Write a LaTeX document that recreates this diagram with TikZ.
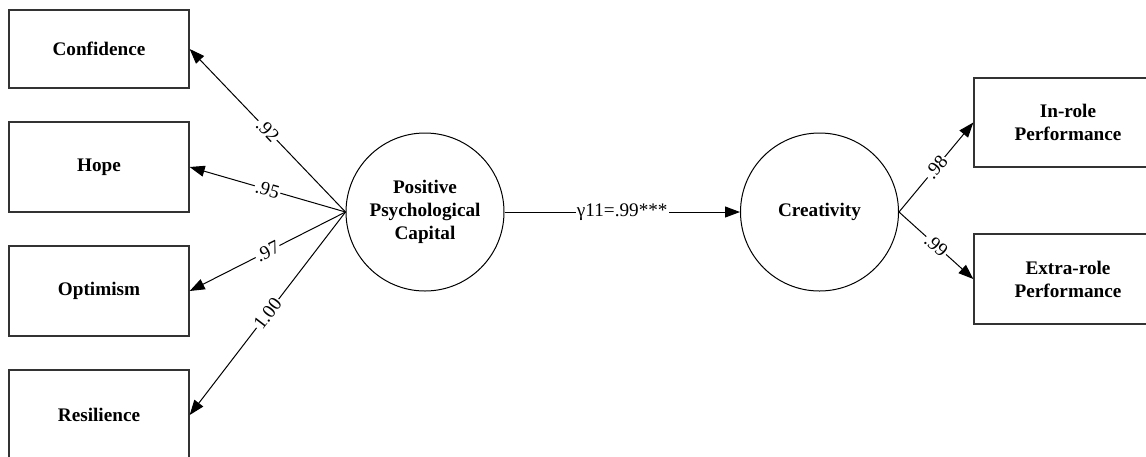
\documentclass[tikz,border=0pt]{standalone}
\usepackage{fontspec}
\setmainfont{Liberation Serif}
\usetikzlibrary{arrows.meta}

\tikzset{
    box/.style={draw=black!80, line width=0.7pt, minimum width=90pt, minimum height=45pt,
        align=center, font=\fontsize{9.6}{11.5}\selectfont\bfseries},
    latent/.style={circle, draw, line width=0.5pt, minimum size=79pt, inner sep=0pt,
        align=center, font=\fontsize{9.6}{11.5}\selectfont\bfseries},
    path/.style={line width=0.5pt, -{Triangle[length=7.5pt,width=5.5pt]}},
    coef/.style={midway, sloped, fill=white, inner sep=0.6pt, font=\fontsize{9.6}{11}\selectfont}
}

\begin{document}
\begin{tikzpicture}[x=0.5pt, y=-0.5pt]
        \clip (0,0) rectangle (1146,456);

        % indicators of psychological capital
        \node[box, minimum height=39pt] (conf) at (99,49) {Confidence};
        \node[box] (hope) at (99,167) {Hope};
        \node[box] (opt) at (99,291) {Optimism};
        \node[box] (res) at (99,415) {Resilience};

        % latent variables
        \node[latent] (ppc) at (425,212) {Positive\\Psychological\\Capital};
        \node[latent] (crea) at (819.5,212) {Creativity};

        % outcomes
        \node[box, minimum width=94pt, minimum height=44.5pt] (inrole) at (1068,122.5) {In-role\\Performance};
        \node[box, minimum width=94pt] (extra) at (1068,279) {Extra-role\\Performance};

        \draw[path] (ppc.west) -- (conf.east) node[coef] {.92};
        \draw[path] (ppc.west) -- (hope.east) node[coef] {.95};
        \draw[path] (ppc.west) -- (opt.east) node[coef] {.97};
        \draw[path] (ppc.west) -- (res.east) node[coef] {1.00};

        \draw[path] (ppc.east) -- (crea.west) node[coef] {γ11=.99***};

        \draw[path] (crea.east) -- (inrole.west) node[coef] {.98};
        \draw[path] (crea.east) -- (extra.west) node[coef] {.99};
    \end{tikzpicture}
\end{document}
